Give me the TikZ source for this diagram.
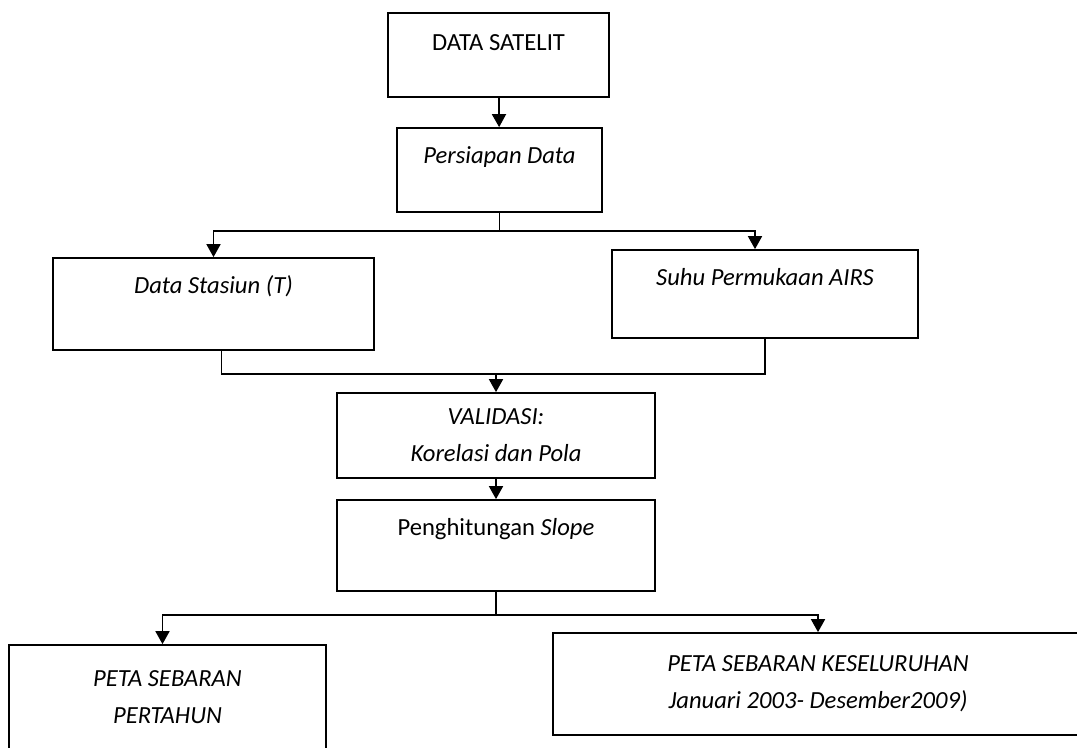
\documentclass[tikz,border=0pt]{standalone}
\usepackage{fontspec}
\setmainfont{Carlito}
\usepackage{tikz}
\usetikzlibrary{arrows.meta,positioning}

\begin{document}
\begin{tikzpicture}[
  box/.style={draw,rectangle,line width=1pt,inner sep=0pt,align=center,font=\fontsize{14}{17}\selectfont},
  link/.style={line width=1pt},
  arr/.style={link,-{Triangle[length=2.6mm,width=2.8mm]}}
]
\useasboundingbox (0,0) rectangle (21.54,-14.94);

% Input
\node[box,minimum width=4.42cm,text height=0.74cm,text depth=0.94cm] (sat) at (9.97,-1.10) {DATA SATELIT};
\node[box,minimum width=4.10cm,text height=0.70cm,text depth=0.98cm] (prep) at (9.99,-3.40) {\textit{Persiapan Data}};

% Data sources
\node[box,minimum width=6.42cm,text height=0.70cm,text depth=1.14cm] (stasiun) at (4.27,-6.08) {\textit{Data Stasiun (T)}};
\node[box,minimum width=6.12cm,text height=0.70cm,text depth=1.06cm] (airs) at (15.30,-5.88) {\textit{Suhu Permukaan AIRS}};

% Validation and slope
\node[box,minimum width=6.36cm,minimum height=1.70cm] (valid) at (9.92,-8.71) {\textit{VALIDASI:}\\[4pt]\textit{Korelasi dan Pola}};
\node[box,minimum width=6.36cm,text height=0.70cm,text depth=1.12cm] (slope) at (9.92,-10.91) {Penghitungan \textit{Slope}};

% Output maps
\node[box,minimum width=6.34cm,minimum height=2.10cm] (tahun) at (3.35,-13.95) {\textit{PETA SEBARAN}\\[4pt]\textit{PERTAHUN}};
\node[box,minimum width=10.60cm,minimum height=2.04cm] (kesel) at (16.36,-13.68) {\textit{PETA SEBARAN KESELURUHAN}\\[4pt]\textit{Januari 2003- Desember2009)}};

% Forks and joins
\coordinate[below=0.36cm of prep] (fork1);
\coordinate[above=0.36cm of valid] (join1);
\coordinate[below=0.46cm of slope] (fork2);

% Arrows
\draw[arr] (sat) -- (prep);
\draw[link] (prep) -- (fork1);
\draw[arr] (fork1) -| (stasiun);
\draw[arr] (fork1) -| ([xshift=-0.2cm]airs.north);

\draw[link] ([xshift=0.16cm]stasiun.south) |- (join1);
\draw[link] (airs) |- (join1);
\draw[arr] (join1) -- (valid);
\draw[arr] (valid) -- (slope);

\draw[link] (slope) -- (fork2);
\draw[arr] (fork2) -| ([xshift=-0.1cm]tahun.north);
\draw[arr] (fork2) -| (kesel);

\end{tikzpicture}
\end{document}
